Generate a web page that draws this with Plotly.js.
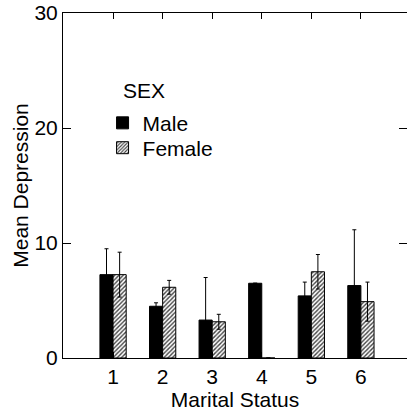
<!DOCTYPE html>
<html>
<head>
<meta charset="utf-8">
<script src="https://cdn.plot.ly/plotly-3.0.1.min.js"></script>
<style>
  html, body { margin: 0; padding: 0; background: #fff; }
  #chart { width: 407px; height: 418px; }
</style>
</head>
<body>
<div id="chart"></div>
<script>
// Mean depression score by marital status, split by sex (with error bars)
const maritalStatus = [1, 2, 3, 4, 5, 6];
const tickLabels = ['1', '2', '3', '4', '5', '6'];

const maleMean = [7.25, 4.5, 3.3, 6.5, 5.4, 6.3];
const maleErr = [2.25, 0.3, 3.7, 0, 1.2, 4.85];

const femaleMean = [7.25, 6.15, 3.15, 0, 7.5, 4.9];
const femaleErr = [1.95, 0.6, 0.65, 0, 1.5, 1.7];

const FONT = 'Liberation Sans, Arial, Helvetica, sans-serif';

const male = {
  type: 'bar',
  name: 'Male',
  legend: 'legend',
  x: maritalStatus,
  y: maleMean,
  marker: { color: '#000', line: { color: '#000', width: 1 } },
  error_y: { type: 'data', array: maleErr, visible: true, color: '#000', thickness: 1, width: 2 }
};

const female = {
  type: 'bar',
  name: 'Female',
  legend: 'legend2',
  x: maritalStatus,
  y: femaleMean,
  marker: {
    color: '#fff',
    line: { color: '#000', width: 1 },
    pattern: { shape: '/', fgcolor: '#444', bgcolor: '#fff', size: 3, solidity: 0.45 }
  },
  error_y: { type: 'data', array: femaleErr, visible: true, color: '#000', thickness: 1, width: 2 }
};

const legendBase = {
  x: 0.115, xanchor: 'left', yanchor: 'top',
  bgcolor: 'rgba(0,0,0,0)',
  font: { family: FONT, size: 21, color: '#000' },
  itemwidth: 30
};

const layout = {
  width: 407,
  height: 418,
  margin: { l: 63, r: 0, t: 13, b: 60 },
  paper_bgcolor: '#fff',
  plot_bgcolor: '#fff',
  font: { family: FONT, size: 21, color: '#000' },
  barmode: 'group',
  bargap: 0.47,
  bargroupgap: 0,
  showlegend: true,
  legend: Object.assign({}, legendBase, { y: 0.74 }),
  legend2: Object.assign({}, legendBase, { y: 0.668 }),
  annotations: [{
    text: 'SEX', xref: 'paper', yref: 'paper',
    x: 0.17, y: 0.815, xanchor: 'left', yanchor: 'top',
    showarrow: false, font: { family: FONT, size: 21, color: '#000' }
  }],
  xaxis: {
    range: [-0.01, 6.93],
    tickvals: maritalStatus,
    ticktext: tickLabels,
    showgrid: false, zeroline: false,
    showline: true, linecolor: '#000', linewidth: 1,
    mirror: 'ticks',
    ticks: 'inside', ticklen: 6, tickcolor: '#000',
    tickfont: { family: FONT, size: 21 },
    title: { text: 'Marital Status', font: { family: FONT, size: 21 }, standoff: 2 }
  },
  yaxis: {
    range: [0, 30],
    tickvals: [0, 10, 20, 30],
    showgrid: false, zeroline: false,
    showline: true, linecolor: '#000', linewidth: 1,
    mirror: 'ticks',
    ticks: 'inside', ticklen: 8, tickcolor: '#000',
    tickfont: { family: FONT, size: 21 },
    title: { text: 'Mean Depression', font: { family: FONT, size: 21 }, standoff: 0 }
  }
};

Plotly.newPlot('chart', [male, female], layout, { staticPlot: true, displayModeBar: false });
</script>
</body>
</html>
